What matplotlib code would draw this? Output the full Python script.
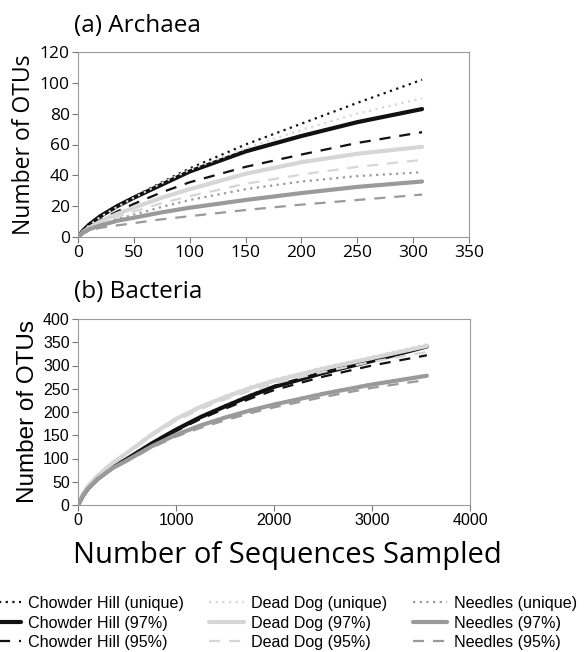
import matplotlib.pyplot as plt

# rarefaction curves
arch_x = [0, 5, 10, 20, 35, 50, 75, 100, 150, 200, 250, 308]
arch = {
    'Chowder Hill (unique)': [0, 4.5, 8, 13.5, 20, 26, 35.5, 44.5, 60, 73.5, 87, 102],
    'Chowder Hill (97%)':    [0, 4.5, 8, 13.5, 20, 25.5, 34, 42.5, 55.5, 65.5, 74.5, 83],
    'Chowder Hill (95%)':    [0, 3.5, 6.5, 11, 16.5, 21.5, 29, 35.5, 45.5, 53.5, 61, 68],
    'Dead Dog (unique)':     [0, 4, 7.5, 13, 19.5, 25.5, 35, 43.5, 57.5, 69.5, 80, 90],
    'Dead Dog (97%)':        [0, 3.5, 6, 10, 15, 19, 25.5, 31, 41, 48.5, 54, 58.5],
    'Dead Dog (95%)':        [0, 3, 5.5, 9, 13, 16.5, 22, 26.5, 34.5, 40.5, 45.5, 50],
    'Needles (unique)':      [0, 3, 5, 8, 11.5, 14.5, 19.5, 24, 31, 36, 39.5, 42],
    'Needles (97%)':         [0, 3, 5, 7.5, 10.5, 12.5, 16, 19, 24, 28.5, 32.5, 36],
    'Needles (95%)':         [0, 2.5, 4, 6, 7.5, 9, 11.5, 13.5, 17.5, 21, 24, 27.5],
}

bact_x = [0, 50, 100, 200, 350, 500, 750, 1000, 1250, 1500, 1750, 2000, 2500, 3000, 3560]
bact = {
    'Chowder Hill (unique)': [0, 20, 35, 56, 80, 99, 133, 163, 190, 214, 236, 256, 285, 311, 341],
    'Chowder Hill (97%)':    [0, 20, 35, 56, 80, 99, 132, 162, 189, 212, 234, 254, 284, 310, 341],
    'Chowder Hill (95%)':    [0, 20, 35, 56, 79, 98, 130, 159, 185, 207, 228, 247, 276, 300, 322],
    'Dead Dog (unique)':     [0, 24, 40, 64, 91, 113, 153, 187, 213, 235, 254, 270, 296, 319, 346],
    'Dead Dog (97%)':        [0, 24, 40, 63, 90, 112, 151, 185, 211, 232, 251, 267, 293, 316, 342],
    'Dead Dog (95%)':        [0, 23, 39, 62, 88, 110, 148, 181, 206, 227, 245, 261, 286, 308, 329],
    'Needles (unique)':      [0, 20, 35, 56, 79, 97, 127, 152, 172, 189, 204, 217, 241, 261, 279],
    'Needles (97%)':         [0, 20, 35, 56, 79, 96, 126, 151, 171, 188, 203, 216, 239, 259, 278],
    'Needles (95%)':         [0, 20, 34, 55, 77, 94, 123, 147, 166, 182, 197, 210, 232, 252, 269],
}

site_colors = {'Chowder Hill': '#111111', 'Dead Dog': '#d6d6d6', 'Needles': '#9a9a9a'}
kinds = {
    'unique': dict(linestyle=(0, (1, 2)), linewidth=1.6),
    '97%': dict(linestyle='-', linewidth=3.0),
    '95%': dict(linestyle=(0, (5, 4)), linewidth=1.6),
}

fig = plt.figure(figsize=(5.84, 6.52), dpi=100)
ax1 = fig.add_axes([78 / 584, 1 - 237 / 652, 391 / 584, 185 / 652])
ax2 = fig.add_axes([78 / 584, 1 - 505 / 652, 392 / 584, 186 / 652])


def style(name):
    site, kind = name.split(' (')
    return dict(color=site_colors[site], solid_capstyle='round', **kinds[kind.rstrip(')')])


handles = []
for name, ys in arch.items():
    ax1.plot(arch_x, ys, label=name, **style(name))
for name, ys in bact.items():
    handles.append(ax2.plot(bact_x, ys, label=name, **style(name))[0])

ax1.set_xlim(0, 350)
ax1.set_ylim(0, 120)
ax1.set_xticks(range(0, 351, 50))
ax1.set_yticks(range(0, 121, 20))
ax2.set_xlim(0, 4000)
ax2.set_ylim(0, 400)
ax2.set_xticks(range(0, 4001, 1000))
ax2.set_yticks(range(0, 401, 50))

for ax in (ax1, ax2):
    for sp in ax.spines.values():
        sp.set_color('#9a9a9a')
    ax.tick_params(length=4, color='#777777', direction='out', pad=2)

for lab in ax1.get_xticklabels() + ax1.get_yticklabels():
    lab.set_fontfamily('Open Sans')
    lab.set_fontsize(12.5)
for lab in ax2.get_xticklabels() + ax2.get_yticklabels():
    lab.set_fontfamily('Liberation Sans')
    lab.set_fontsize(11.5)

ax1.set_ylabel('Number of OTUs', fontfamily='Open Sans', fontsize=16.5, labelpad=3)
ax2.set_ylabel('Number of OTUs', fontfamily='Liberation Sans', fontsize=17.5, labelpad=3)
fig.text(74 / 584, 1 - 26 / 652, '(a) Archaea', fontfamily='Open Sans', fontsize=17.5, va='center')
fig.text(74 / 584, 1 - 292 / 652, '(b) Bacteria', fontfamily='Open Sans', fontsize=17.5, va='center')
fig.text(287 / 584, 1 - 556 / 652, 'Number of Sequences Sampled', fontfamily='Open Sans',
         fontsize=21, ha='center', va='center')

fig.legend(handles=handles, loc='upper left', bbox_to_anchor=(-14 / 584, 1 - 596 / 652),
           ncol=3, frameon=False, prop={'family': 'Liberation Sans', 'size': 11.6},
           handlelength=2.15, handletextpad=0.43, columnspacing=1.6, labelspacing=0.28,
           borderpad=0, borderaxespad=0)

fig.savefig('out.png', dpi=100)
